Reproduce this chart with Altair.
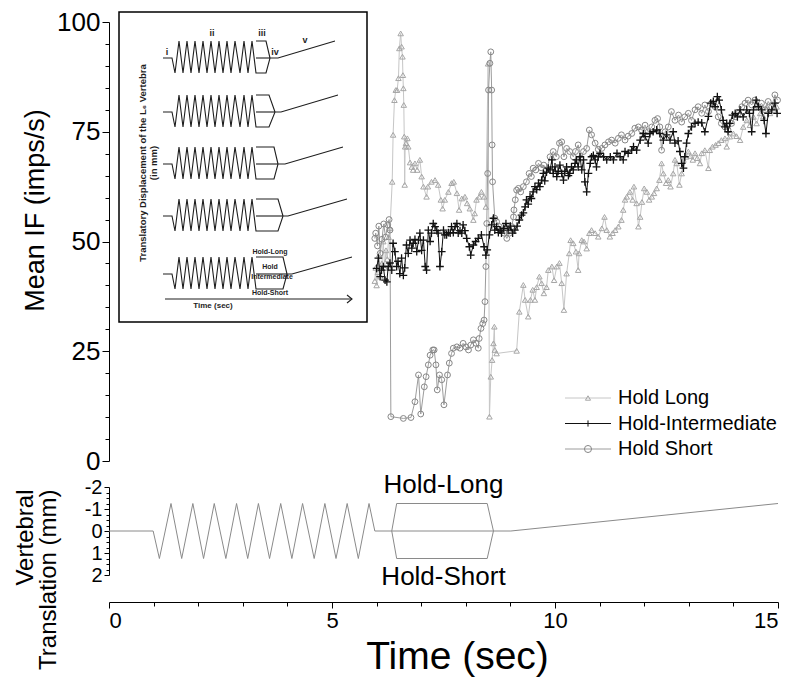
import altair as alt
import pandas as pd

FONT = "Liberation Sans"

# ---------------- Mean IF series (time in s, mean IF in imps/s) ----------------
LONG_T = [5.96, 5.98, 6.00, 6.03, 6.06, 6.09, 6.12, 6.15, 6.18, 6.21, 6.24, 6.27, 6.30, 6.35, 6.37, 6.40,
          6.43, 6.46, 6.49, 6.51, 6.54, 6.56, 6.58, 6.59, 6.60, 6.61, 6.62, 6.63, 6.64, 6.66, 6.69, 6.71,
          6.75, 6.79, 6.82, 6.86, 6.91, 6.97, 7.01, 7.05, 7.12, 7.15, 7.23, 7.31, 7.38, 7.44, 7.48, 7.53,
          7.61, 7.68, 7.73, 7.80, 7.85, 7.91, 7.98, 8.03, 8.09, 8.17, 8.20, 8.24, 8.30, 8.35, 8.41, 8.45,
          8.50, 8.53, 8.56, 8.59, 8.62, 8.64, 8.65, 8.69, 9.14, 9.20, 9.29, 9.33, 9.40, 9.45, 9.50, 9.55,
          9.59, 9.65, 9.70, 9.75, 9.81, 9.85, 9.93, 9.98, 10.04, 10.10, 10.15, 10.20, 10.26, 10.32, 10.35,
          10.41, 10.47, 10.52, 10.54, 10.60, 10.65, 10.71, 10.77, 10.82, 10.90, 10.97, 11.05, 11.11, 11.16,
          11.23, 11.29, 11.35, 11.42, 11.49, 11.53, 11.57, 11.61, 11.68, 11.74, 11.77, 11.83, 11.87, 11.91,
          11.95, 12.00, 12.06, 12.11, 12.17, 12.22, 12.28, 12.34, 12.39, 12.43, 12.49, 12.54, 12.59, 12.65,
          12.69, 12.73, 12.79, 12.84, 12.88, 12.94, 12.99, 13.04, 13.09, 13.14, 13.19, 13.25, 13.29, 13.36,
          13.44, 13.47, 13.53, 13.60, 13.66, 13.73, 13.81, 13.85, 13.92, 14.00, 14.07, 14.15, 14.22, 14.30,
          14.37, 14.45, 14.52, 14.60, 14.67, 14.75, 14.82, 14.90, 14.97]
LONG_V = [41, 44, 40, 43, 47, 42, 45, 50, 44, 48, 46, 51, 53, 63.6, 74.3, 82.2,
          84.5, 84.5, 87.2, 94.0, 97.4, 94.4, 92.1, 87.9, 84.9, 81.1, 73.9, 62.9, 71.6, 72.4, 73.5, 71.6,
          68.0, 67.0, 66.3, 67.8, 66.3, 68.6, 64.8, 62.5, 60.2, 62.5, 63.6, 64.0, 62.9, 59.5, 57.5, 59.5,
          61.3, 63.3, 63.6, 61.0, 57.2, 59.8, 60.2, 58.7, 57.5, 54.9, 56.4, 59.5, 60.2, 61.3, 60.2, 57.9,
          90.5, 10.1, 19.2, 23.0, 26.8, 30.6, 25.3, 24.5, 25.1, 34.0, 40.1, 36.7, 32.9, 36.7, 39.0, 36.7,
          39.6, 42.0, 40.5, 38.2, 39.6, 43.5, 44.3, 41.2, 44.3, 45.1, 40.5, 34.4, 42.7, 47.3, 50.3,
          49.6, 47.7, 43.5, 47.3, 50.3, 50.0, 48.4, 51.9, 52.6, 51.9, 51.1, 53.0, 55.6, 52.6,
          51.1, 51.9, 52.6, 53.4, 54.9, 57.2, 59.5, 60.2, 61.3, 59.5, 62.5, 58.7, 53.4, 55.6,
          59.0, 62.1, 61.3, 59.5, 60.2, 61.0, 62.1, 64.0, 67.8, 65.5, 63.3, 64.0, 62.5, 65.5,
          68.6, 67.8, 62.9, 65.5, 68.6, 69.3, 70.5, 69.5, 68.6, 70.1, 69.0, 67.8, 70.1, 70.8,
          66.7, 70.8, 71.6, 72.0, 72.4, 73.1, 73.5, 71.6, 73.9, 74.6, 74.0, 73.1, 76.1, 77.6,
          76.5, 78.4, 76.9, 79.2, 78.5, 80.7, 79.2, 80.0, 80.7]

INTER_T = [6.00, 6.04, 6.08, 6.11, 6.15, 6.19, 6.23, 6.26, 6.30, 6.34, 6.37, 6.41, 6.45, 6.48, 6.52, 6.56,
           6.60, 6.63, 6.67, 6.71, 6.75, 6.79, 6.82, 6.86, 6.90, 6.94, 6.97, 7.01, 7.05, 7.09, 7.12, 7.16,
           7.20, 7.23, 7.27, 7.31, 7.35, 7.38, 7.42, 7.46, 7.50, 7.53, 7.57, 7.61, 7.65, 7.68, 7.72, 7.76,
           7.80, 7.83, 7.87, 7.91, 7.94, 7.98, 8.02, 8.08, 8.11, 8.17, 8.22, 8.28, 8.35, 8.41, 8.45, 8.48,
           8.53, 8.58, 8.62, 8.65, 8.69, 8.73, 8.77, 8.80, 8.85, 8.90, 8.95, 9.00, 9.05, 9.10, 9.15, 9.20,
           9.25, 9.29, 9.33, 9.36, 9.40, 9.44, 9.47, 9.51, 9.55, 9.59, 9.63, 9.66, 9.70, 9.74, 9.77, 9.81,
           9.85, 9.89, 9.93, 9.96, 10.00, 10.04, 10.07, 10.11, 10.15, 10.19, 10.22, 10.26, 10.30, 10.33,
           10.37, 10.41, 10.45, 10.48, 10.52, 10.56, 10.60, 10.64, 10.67, 10.71, 10.75, 10.79, 10.82, 10.86,
           10.90, 10.93, 10.97, 11.01, 11.09, 11.16, 11.24, 11.31, 11.39, 11.46, 11.53, 11.57, 11.64, 11.72,
           11.76, 11.83, 11.91, 11.98, 12.02, 12.09, 12.13, 12.20, 12.28, 12.35, 12.43, 12.50, 12.58, 12.65,
           12.69, 12.76, 12.80, 12.84, 12.88, 12.91, 12.95, 12.99, 13.06, 13.14, 13.21, 13.29, 13.36, 13.44,
           13.49, 13.55, 13.59, 13.64, 13.68, 13.73, 13.77, 13.81, 13.85, 13.88, 13.92, 13.98, 14.04, 14.09,
           14.15, 14.22, 14.30, 14.36, 14.41, 14.45, 14.51, 14.56, 14.63, 14.69, 14.73, 14.78, 14.86, 14.93,
           14.98]
INTER_V = [43.9, 46.2, 42.0, 43.5, 44.3, 41.2, 40.8, 44.3, 45.1, 43.5, 49.6, 47.7, 44.3, 45.5, 42.7, 46.2,
           42.3, 44.0, 49.2, 47.3, 50.3, 48.5, 49.6, 50.5, 47.7, 50.3, 51.9, 48.0, 50.3, 44.3, 43.5, 52.6,
           50.0, 51.9, 54.1, 53.4, 52.5, 51.9, 44.3, 47.7, 52.6, 51.5, 51.5, 52.0, 51.9, 53.4, 52.0, 53.4,
           54.1, 51.9, 52.5, 51.9, 53.8, 52.5, 50.7, 48.8, 46.9, 49.2, 50.0, 50.7, 51.5, 48.8, 46.9, 48.1,
           51.5, 53.8, 55.3, 52.6, 53.4, 52.0, 52.6, 51.9, 53.0, 54.1, 52.6, 53.5, 51.9, 52.6, 53.5, 54.9,
           56.0, 56.5, 57.9, 59.5, 58.5, 60.2, 59.8, 61.3, 62.5, 61.8, 63.3, 62.5, 64.0, 65.5, 63.8, 65.8,
           66.7, 66.3, 68.6, 65.5, 67.0, 64.8, 66.0, 67.4, 65.5, 64.0, 66.0, 67.0, 65.0, 65.5,
           67.0, 66.3, 67.8, 68.6, 67.0, 69.3, 66.3, 68.6, 63.6, 61.3, 65.5, 67.8, 69.3, 69.6,
           68.6, 67.0, 69.3, 70.1, 69.3, 68.6, 69.3, 68.6, 70.1, 69.3, 68.6, 70.5, 70.1, 70.8,
           71.6, 70.8, 73.1, 74.6, 73.9, 72.4, 74.6, 75.0, 75.4, 74.6, 73.1, 74.3, 73.1, 75.0,
           72.4, 72.9, 70.5, 67.8, 66.7, 69.3, 72.4, 74.6, 76.1, 76.9, 77.2, 77.0, 75.0, 78.5,
           81.5, 81.9, 80.7, 83.0, 82.2, 80.0, 77.6, 76.1, 76.9, 75.0, 76.9, 78.8, 79.2, 78.4,
           80.0, 78.4, 80.0, 79.2, 75.0, 80.0, 82.2, 80.7, 80.0, 77.6, 74.6, 79.2, 80.0, 81.5,
           79.2]

SHORT_T = [5.96, 5.98, 6.02, 6.05, 6.08, 6.12, 6.16, 6.20, 6.25, 6.28, 6.30, 6.32, 6.60, 6.77, 6.86, 6.94,
           6.99, 7.07, 7.11, 7.16, 7.20, 7.26, 7.29, 7.33, 7.36, 7.41, 7.46, 7.51, 7.59, 7.63, 7.68, 7.72,
           7.80, 7.87, 7.94, 8.00, 8.06, 8.11, 8.17, 8.23, 8.28, 8.30, 8.34, 8.38, 8.41, 8.43, 8.45, 8.47,
           8.49, 8.51, 8.54, 8.56, 8.58, 8.59, 8.60, 8.65, 8.69, 8.75, 8.80, 8.86, 8.92, 8.98, 9.03, 9.07,
           9.08, 9.11, 9.14, 9.18, 9.23, 9.29, 9.36, 9.42, 9.47, 9.51, 9.57, 9.63, 9.69, 9.75, 9.81, 9.89,
           9.96, 10.03, 10.10, 10.15, 10.20, 10.26, 10.33, 10.41, 10.46, 10.52, 10.58, 10.64, 10.71, 10.77,
           10.82, 10.90, 10.97, 11.05, 11.12, 11.20, 11.27, 11.35, 11.42, 11.49, 11.57, 11.64, 11.72, 11.79,
           11.87, 11.94, 12.02, 12.09, 12.17, 12.24, 12.30, 12.35, 12.39, 12.47, 12.54, 12.61, 12.69, 12.77,
           12.84, 12.91, 12.99, 13.06, 13.14, 13.21, 13.29, 13.36, 13.44, 13.51, 13.59, 13.66, 13.73, 13.81,
           13.88, 13.96, 14.04, 14.11, 14.19, 14.26, 14.33, 14.41, 14.48, 14.56, 14.63, 14.71, 14.78, 14.86,
           14.93, 14.99]
SHORT_V = [50.7, 51.9, 49.0, 53.5, 47.3, 50.5, 54.0, 51.0, 53.8, 55.0, 52.6, 10.1, 9.7, 9.9, 13.5, 19.6,
           10.7, 16.9, 19.2, 21.9, 24.1, 25.3, 25.3, 21.9, 16.2, 19.6, 18.5, 12.8, 19.6, 22.3, 24.5, 25.7,
           26.0, 25.7, 26.8, 26.0, 25.3, 26.4, 27.6, 26.8, 25.7, 27.9, 30.2, 31.3, 32.1, 36.3, 44.3, 54.1,
           65.5, 84.5, 90.6, 93.2, 84.5, 72.0, 63.6, 55.3, 54.5, 53.4, 52.6, 51.9, 50.7, 51.9, 53.4, 55.6,
           57.2, 59.5, 61.7, 62.1, 61.3, 62.5, 63.6, 65.5, 64.8, 66.7, 66.3, 67.8, 66.8, 67.4, 66.3, 69.3,
           70.5, 69.3, 72.4, 72.7, 69.3, 71.2, 70.5, 69.3, 70.5, 72.0, 69.0, 70.5, 71.2, 75.4,
           74.3, 72.4, 71.0, 71.2, 72.0, 72.7, 73.1, 72.4, 73.5, 74.3, 73.1, 74.0, 74.6, 75.8,
           76.1, 75.4, 76.5, 75.0, 76.1, 77.6, 78.0, 76.1, 70.8, 75.0, 76.1, 79.6, 77.6, 78.8,
           77.2, 78.4, 79.2, 77.6, 80.0, 80.7, 79.2, 81.1, 79.6, 81.5, 80.7, 78.4, 76.9, 76.1,
           75.4, 76.9, 78.4, 79.2, 80.7, 81.5, 82.2, 81.1, 82.2, 80.7, 81.5, 80.0, 81.9, 80.7,
           83.4, 82.2]

SERIES = ["Hold Long", "Hold-Intermediate", "Hold Short"]
LINE_COLORS = ["#c6c6c6", "#111111", "#9c9c9c"]
MARK_COLORS = ["#a6a6a6", "#111111", "#878787"]
SHAPES = ["triangle-up", "M-1,0L1,0M0,-1L0,1", "circle"]
SIZES = [30, 60, 34]
Y_MAJOR = [0, 25, 50, 75, 100]
Y_MINOR = [5, 10, 15, 20, 30, 35, 40, 45, 55, 60, 65, 70, 80, 85, 90, 95]

# ---------------- vertebral translation protocol (s, mm) ----------------
CYC_T = [0, 0.99, 1.13, 1.39, 1.63, 1.88, 2.12, 2.36, 2.62, 2.86, 3.11, 3.35, 3.60, 3.85, 4.10, 4.34,
         4.60, 4.84, 5.09, 5.34, 5.59, 5.83, 5.96, 9.01, 15.0]
CYC_MM = [0, 0, 1.25, -1.25, 1.25, -1.25, 1.25, -1.25, 1.25, -1.25, 1.25, -1.25, 1.25, -1.25, 1.25, -1.25,
          1.25, -1.25, 1.25, -1.25, 1.25, -1.25, 0, 0, -1.25]
HOLD_T = [6.34, 6.45, 8.48, 8.62]
HOLD_LONG_MM = [0, -1.25, -1.25, 0]
HOLD_SHORT_MM = [0, 1.25, 1.25, 0]
HOLD_LABELS = ["Hold-Long", "Hold-Short"]
HOLD_LABEL_T = [7.5, 7.5]
HOLD_LABEL_MM = [-2.1, 2.1]
X_MAJOR = [0, 5, 10, 15]
X_MINOR = [1, 2, 3, 4, 6, 7, 8, 9, 11, 12, 13, 14]
BY_MAJOR = [-2, -1, 0, 1, 2]
BY_MINOR = [-1.75, -1.5, -1.25, -0.75, -0.5, -0.25, 0.25, 0.5, 0.75, 1.25, 1.5, 1.75]

# ---------------- inset schematic (inset units) ----------------
ZIG_X = [44, 53, 56, 60, 64, 68, 72, 76, 80, 84, 88, 92, 96, 100, 104, 108, 112, 116, 121, 125, 129, 133, 137]
ZIG_LEVEL = ["b", "b", "t", "p", "t", "p", "t", "p", "t", "p", "t", "p", "t", "p", "t", "p", "t", "p", "t",
             "p", "t", "p", "t"]
ROW_BASE = [46, 100, 152, 204, 262]
AMP_UP, AMP_DN, RAMP_RISE = 17, 15, 17
BOX_RIGHT = [147, 150, 155, 159, 164]
VERTEX = [151, 156, 159, 164, 168]
RAMP_START = [159, 162, 166, 169, 173]
RAMP_END = [216, 219, 224, 228, 233]
PHASE_LABELS = ["i", "ii", "iii", "iv", "v"]
PHASE_X = [48, 93, 143, 156, 186]
PHASE_Y = [40, 21, 21, 40, 28]
HOLD_NAMES = ["Hold-Long", "Hold", "Intermediate", "Hold-Short"]
HOLD_NX = [151, 151, 153, 151]
HOLD_NY = [240, 255, 265, 281]
ARROW_X = [[46, 233], [228, 233, 228]]
ARROW_Y = [[287, 287], [283, 287, 291]]

W, H = 669, 439
BW, BH = 669, 88

XS = alt.Scale(domain=[0, 15], nice=False, zero=False)
YS = alt.Scale(domain=[0, 100], nice=False)
IX = alt.Scale(domain=[0, 248], range=[10, 258], nice=False, zero=False)
IY = alt.Scale(domain=[0, 310], range=[-10, 300], nice=False, zero=False)

AX_COMMON = dict(domainColor="black", tickColor="black", labelColor="black", grid=False,
                 labelFont=FONT, titleFont=FONT, titleColor="black", titleFontWeight="normal")

major_y = alt.Axis(values=Y_MAJOR, orient="left", tickSize=7, labelFontSize=26, labelPadding=2,
                   title="Mean IF (imps/s)", titleFontSize=27, titleAngle=270, titleX=-74, titleY=188,
                   titleAlign="center", titleBaseline="middle", **AX_COMMON)
minor_y = alt.Axis(values=Y_MINOR, orient="left", tickSize=4, labels=False, domain=False, title=None,
                   tickColor="black", grid=False)

series_data = [(LONG_T, LONG_V), (INTER_T, INTER_V), (SHORT_T, SHORT_V)]
draw_order = [0, 2, 1]
layers = []
for k in draw_order:
    ts, vs = series_data[k]
    df = pd.DataFrame({"t": ts, "v": vs})
    if k == 0:
        ax = major_y
    elif k == 2:
        ax = minor_y
    else:
        ax = None
    line = alt.Chart(df).mark_line(color=LINE_COLORS[k], strokeWidth=1).encode(
        x=alt.X("t:Q", scale=XS, axis=None),
        y=alt.Y("v:Q", scale=YS, axis=ax),
    )
    pts = alt.Chart(df).mark_point(shape=SHAPES[k], size=SIZES[k], filled=False, color=MARK_COLORS[k],
                                   strokeWidth=1.0 if k != 1 else 1.3, opacity=1).encode(
        x=alt.X("t:Q", scale=XS, axis=None),
        y=alt.Y("v:Q", scale=YS, axis=None),
    )
    layers += [line, pts]

# manual legend
leg = pd.DataFrame({"name": SERIES, "row": [0, 1, 2]})
LEGY = alt.Scale(domain=[0, 2], range=[376, 427], nice=False, zero=False)
leg_rule = alt.Chart(leg).mark_rule(strokeWidth=1).encode(
    x=alt.value(456), x2=alt.value(502),
    y=alt.Y("row:Q", scale=LEGY, axis=None),
    color=alt.Color("name:N", scale=alt.Scale(domain=SERIES, range=LINE_COLORS), legend=None),
)
leg_pt = alt.Chart(leg).mark_point(filled=False, strokeWidth=1, opacity=1).encode(
    x=alt.value(479),
    y=alt.Y("row:Q", scale=LEGY, axis=None),
    shape=alt.Shape("name:N", scale=alt.Scale(domain=SERIES, range=SHAPES), legend=None),
    size=alt.Size("name:N", scale=alt.Scale(domain=SERIES, range=[26, 50, 28]), legend=None),
    color=alt.Color("name:N", scale=alt.Scale(domain=SERIES, range=MARK_COLORS), legend=None),
)
leg_txt = alt.Chart(leg).mark_text(align="left", baseline="middle", fontSize=20, font=FONT,
                                   color="black").encode(
    x=alt.value(509),
    y=alt.Y("row:Q", scale=LEGY, axis=None),
    text="name:N",
)
layers += [leg_rule, leg_pt, leg_txt]

# inset schematic
box = pd.DataFrame({"x0": [0], "x1": [248], "y0": [0], "y1": [310]})
inset_box = alt.Chart(box).mark_rect(filled=False, stroke="black", strokeWidth=1.5).encode(
    x=alt.X("x0:Q", scale=IX, axis=None), x2="x1:Q",
    y=alt.Y("y0:Q", scale=IY, axis=None), y2="y1:Q",
)
recs = []
seg = 0
for r in range(5):
    base = ROW_BASE[r]
    lv = {"b": base, "p": base - AMP_UP, "t": base + AMP_DN}
    path = [(x, lv[l]) for x, l in zip(ZIG_X, ZIG_LEVEL)]
    path += [(BOX_RIGHT[r], lv["t"]), (VERTEX[r], base), (RAMP_START[r], base), (RAMP_END[r], base - RAMP_RISE)]
    top = [(ZIG_X[-1], lv["p"]), (BOX_RIGHT[r], lv["p"]), (VERTEX[r], base)]
    mid = [(ZIG_X[-1], base), (VERTEX[r], base)]
    for p in (path, top, mid):
        for i, (x, y) in enumerate(p):
            recs.append({"x": x, "y": y, "seg": seg, "ord": i})
        seg += 1
for xs, ys in zip(ARROW_X, ARROW_Y):
    for i, (x, y) in enumerate(zip(xs, ys)):
        recs.append({"x": x, "y": y, "seg": seg, "ord": i})
    seg += 1
sch = pd.DataFrame(recs)
inset_lines = alt.Chart(sch).mark_line(color="#1e1e1e", strokeWidth=1.1).encode(
    x=alt.X("x:Q", scale=IX, axis=None),
    y=alt.Y("y:Q", scale=IY, axis=None),
    detail="seg:N",
    order="ord:Q",
)
ph = pd.DataFrame({"lab": PHASE_LABELS, "x": PHASE_X, "y": PHASE_Y})
inset_ph = alt.Chart(ph).mark_text(fontSize=9, fontWeight="bold", font=FONT, color="#1e1e1e",
                                   baseline="middle").encode(
    x=alt.X("x:Q", scale=IX, axis=None), y=alt.Y("y:Q", scale=IY, axis=None), text="lab:N")
hn = pd.DataFrame({"lab": HOLD_NAMES, "x": HOLD_NX, "y": HOLD_NY})
inset_hn = alt.Chart(hn).mark_text(fontSize=7, fontWeight="bold", font=FONT, color="#1e1e1e",
                                   baseline="middle").encode(
    x=alt.X("x:Q", scale=IX, axis=None), y=alt.Y("y:Q", scale=IY, axis=None), text="lab:N")
tt = pd.DataFrame({"lab": ["Time (sec)"], "x": [94], "y": [294]})
inset_tt = alt.Chart(tt).mark_text(fontSize=8, fontWeight="bold", font=FONT, color="#1e1e1e",
                                   baseline="middle").encode(
    x=alt.X("x:Q", scale=IX, axis=None), y=alt.Y("y:Q", scale=IY, axis=None), text="lab:N")
yl = pd.DataFrame({"lab": ["Translatory Displacement of the L\u2086 Vertebra", "(in mm)"],
                   "x": [24, 34.5], "y": [151, 151]})
inset_yl = alt.Chart(yl).mark_text(fontSize=9.5, fontWeight="bold", font=FONT, color="#1e1e1e",
                                   baseline="middle", angle=270).encode(
    x=alt.X("x:Q", scale=IX, axis=None), y=alt.Y("y:Q", scale=IY, axis=None), text="lab:N")
layers += [inset_box, inset_lines, inset_ph, inset_hn, inset_tt, inset_yl]

top_chart = alt.layer(*layers).resolve_scale(
    x="independent", y="independent", color="independent", shape="independent", size="independent"
).properties(width=W, height=H)

# ---------------- bottom panel ----------------
trace_recs = []
for i, (t, m) in enumerate(zip(CYC_T, CYC_MM)):
    trace_recs.append({"t": t, "mm": m, "path": "Hold-Intermediate", "ord": i})
for i, (t, m) in enumerate(zip(HOLD_T, HOLD_LONG_MM)):
    trace_recs.append({"t": t, "mm": m, "path": "Hold-Long", "ord": i})
for i, (t, m) in enumerate(zip(HOLD_T, HOLD_SHORT_MM)):
    trace_recs.append({"t": t, "mm": m, "path": "Hold-Short", "ord": i})
trace = pd.DataFrame(trace_recs)

BX = alt.Scale(domain=[0, 15], nice=False, zero=False)
BY = alt.Scale(domain=[-2, 2], reverse=True, nice=False, zero=False)

bx_major = alt.Axis(values=X_MAJOR, orient="bottom", offset=27, tickSize=6, labelFontSize=22, labelPadding=2,
                    title="Time (sec)", titleFontSize=39, titlePadding=6, titleX=348, **AX_COMMON)
bx_minor = alt.Axis(values=X_MINOR, orient="bottom", offset=27, tickSize=4, labels=False, domain=False,
                    title=None, tickColor="black", grid=False)
by_major = alt.Axis(values=BY_MAJOR, orient="left", tickSize=5, labelFontSize=20, labelPadding=2,
                    labelExpr="'' + datum.value",
                    title=["Vertebral", "Translation (mm)"], titleFontSize=24, titleAngle=270,
                    titleAlign="right", titleBaseline="top", titleX=-96, titleY=2, titleLineHeight=23,
                    **AX_COMMON)
by_minor = alt.Axis(values=BY_MINOR, orient="left", tickSize=3, labels=False, domain=False, title=None,
                    tickColor="black", grid=False)

b_line = alt.Chart(trace).mark_line(color="#8a8a8a", strokeWidth=1).encode(
    x=alt.X("t:Q", scale=BX, axis=bx_major),
    y=alt.Y("mm:Q", scale=BY, axis=by_major),
    detail="path:N",
    order="ord:Q",
)
hl = pd.DataFrame({"lab": HOLD_LABELS, "t": HOLD_LABEL_T, "mm": HOLD_LABEL_MM})
b_txt = alt.Chart(hl).mark_text(fontSize=26, font=FONT, color="black", baseline="middle").encode(
    x=alt.X("t:Q", scale=BX, axis=bx_minor),
    y=alt.Y("mm:Q", scale=BY, axis=by_minor),
    text="lab:N",
)
bottom_chart = alt.layer(b_line, b_txt).resolve_axis(x="independent", y="independent").properties(
    width=BW, height=BH)

chart = alt.vconcat(top_chart, bottom_chart, spacing=-3).resolve_scale(
    x="independent", y="independent"
).properties(
    padding={"left": 5, "top": 1, "right": 5, "bottom": 2}
).configure(font=FONT).configure_view(strokeWidth=0, stroke="transparent")

chart.save("out.html", embed_options={"renderer": "svg", "actions": False})
